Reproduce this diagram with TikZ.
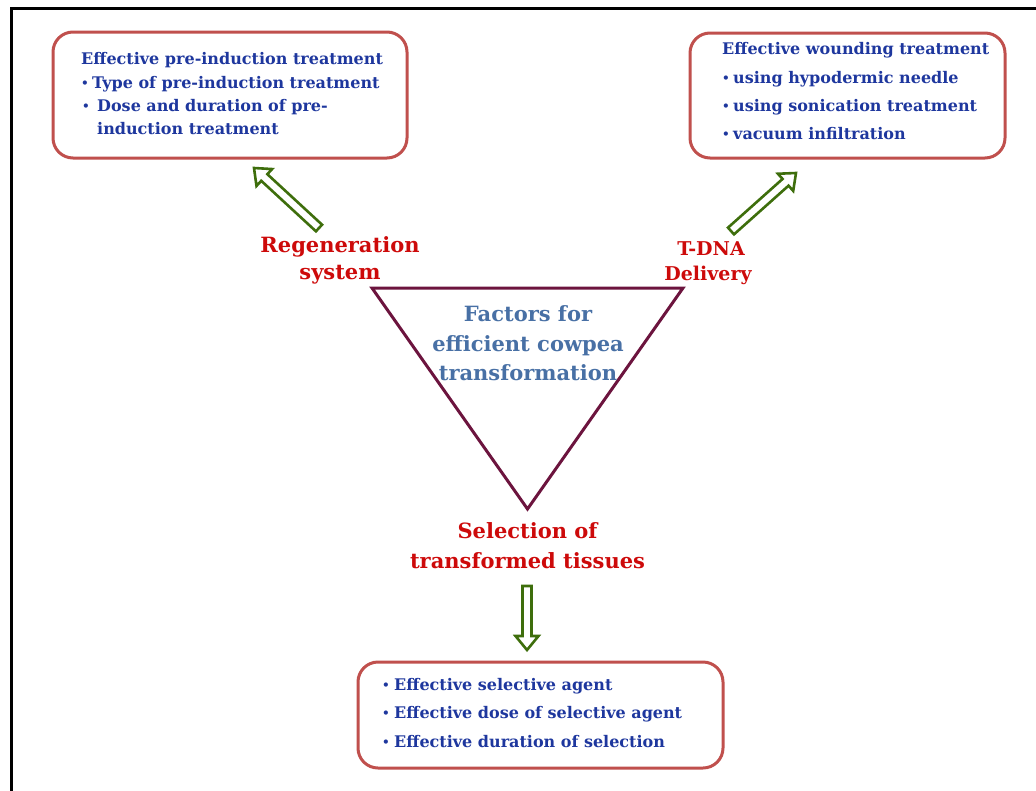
\documentclass[tikz,border=0pt]{standalone}
\usepackage{fontspec}
\setmainfont{DejaVu Serif}
\usetikzlibrary{calc}

\definecolor{boxred}{RGB}{192,80,77}
\definecolor{itemblue}{RGB}{30,55,158}
\definecolor{labelred}{RGB}{205,10,10}
\definecolor{trimaroon}{RGB}{108,20,62}
\definecolor{tritext}{RGB}{72,112,165}
\definecolor{arrowgreen}{RGB}{62,110,12}

\tikzset{
  infobox/.style={draw=boxred, line width=3pt, rounded corners=20pt, fill=white, inner sep=0pt},
  item/.style={text=itemblue, inner sep=0pt, anchor=base west, font=\bfseries\fontsize{16}{19}\selectfont},
  dot/.style={text=itemblue, inner sep=0pt, anchor=base west, font=\bfseries\fontsize{12}{14}\selectfont},
  factor/.style={text=labelred, inner sep=0pt, anchor=base, font=\bfseries\fontsize{21}{25}\selectfont},
  smallfactor/.style={text=labelred, inner sep=0pt, anchor=base, font=\bfseries\fontsize{19}{23}\selectfont},
  core/.style={text=tritext, inner sep=0pt, anchor=base, font=\bfseries\fontsize{21}{25}\selectfont},
  tri/.style={draw=trimaroon, line width=3pt, line join=miter},
  greenarrow/.style={draw=arrowgreen, line width=2.6pt, fill=white, line join=miter},
  frame/.style={draw=black, line width=3.5pt}
}

% hollow block arrow from #1 to #2
\newcommand{\hollowarrow}[2]{%
  \coordinate (ha-base) at ($(#2)!14pt!(#1)$);
  \draw[greenarrow]
    ($(#1)!4.5pt!90:(#2)$) -- ($(ha-base)!4.5pt!90:(#2)$) -- ($(ha-base)!11.5pt!90:(#2)$)
    -- (#2)
    -- ($(ha-base)!11.5pt!-90:(#2)$) -- ($(ha-base)!4.5pt!-90:(#2)$) -- ($(#1)!4.5pt!-90:(#2)$)
    -- cycle;
}

\begin{document}
\begin{tikzpicture}[x=1pt,y=-1pt]
\useasboundingbox (0,0) rectangle (1036,790);

% frame (left and top edges)
\coordinate (fbl) at (11.5,792);
\coordinate (ftl) at (11.5,8.5);
\coordinate (ftr) at (1038,8.5);
\draw[frame] (fbl) -- (ftl) -- (ftr);

% boxes
\node[infobox, minimum width=354pt, minimum height=126pt] (regbox) at (230,95) {};
\node[infobox, minimum width=315pt, minimum height=125pt] (dnabox) at (847.5,95.5) {};
\node[infobox, minimum width=365pt, minimum height=106pt] (selbox) at (540.5,715) {};

% regeneration box text
\node[item] (r1) at (81,64) {Effective pre-induction treatment};
\node[dot] (r2d) at (81,87) {•};
\node[item] (r2) at (92,88) {Type of pre-induction treatment};
\node[dot] (r3d) at (82,110) {•};
\node[item] (r3) at (97,111) {Dose and duration of pre-};
\node[item] (r4) at (97,134) {induction treatment};

% T-DNA box text
\node[item] (d1) at (722,54) {Effective wounding treatment};
\node[dot] (d2d) at (722,82) {•};
\node[item] (d2) at (733,83) {using hypodermic needle};
\node[dot] (d3d) at (722,110) {•};
\node[item] (d3) at (733,111) {using sonication treatment};
\node[dot] (d4d) at (722,138) {•};
\node[item] (d4) at (733,139) {vacuum infiltration};

% selection box text
\node[dot] (s1d) at (382,689) {•};
\node[item] (s1) at (394,690) {Effective selective agent};
\node[dot] (s2d) at (382,717) {•};
\node[item] (s2) at (394,718) {Effective dose of selective agent};
\node[dot] (s3d) at (382,746) {•};
\node[item] (s3) at (394,747) {Effective duration of selection};

% central triangle
\coordinate (ttl) at (372,288);
\coordinate (ttr) at (683,288);
\coordinate (tbt) at (527.5,509);
\draw[tri] (ttl) -- (ttr) -- (tbt) -- cycle;
\node[core] (c1) at (528,321) {Factors for};
\node[core] (c2) at (528,351) {efficient cowpea};
\node[core] (c3) at (528,380) {transformation};

% factor labels
\node[factor] (reg1) at (340,252) {Regeneration};
\node[factor] (reg2) at (340,279) {system};
\node[smallfactor] (dna1) at (711,255) {T-DNA};
\node[smallfactor] (dna2) at (708,280) {Delivery};
\node[factor] (sel1) at (527.5,538) {Selection of};
\node[factor] (sel2) at (527.5,568) {transformed tissues};

% arrows from factors to their boxes
\coordinate (a1s) at (319,228);
\coordinate (a1e) at (254,168);
\coordinate (a2s) at (731,231);
\coordinate (a2e) at (796,173);
\coordinate (a3s) at (527,586);
\coordinate (a3e) at (527,650);
\hollowarrow{a1s}{a1e}
\hollowarrow{a2s}{a2e}
\hollowarrow{a3s}{a3e}
\end{tikzpicture}
\end{document}
